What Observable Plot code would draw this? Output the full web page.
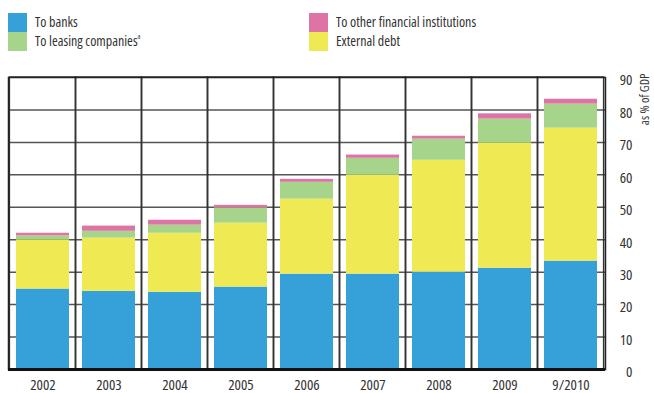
<!DOCTYPE html>
<html><head><meta charset="utf-8">
<script src="https://cdn.jsdelivr.net/npm/d3@7"></script>
<script src="https://cdn.jsdelivr.net/npm/@observablehq/plot@0.6"></script>
<style>
body{margin:0;background:#fff;font-family:"Open Sans",sans-serif;font-stretch:condensed;}
#legend{position:relative;height:52px;width:654px;}
.item{position:absolute;display:flex;align-items:center;font-size:14px;line-height:16px;color:#333;height:19.2px;overflow:visible}
.item span{line-height:16px}
.sw{width:19px;height:19.2px;margin-right:8px;flex:none}
sup{font-size:7px;vertical-align:top;line-height:7px}
#chart svg{display:block;font-stretch:condensed}
#chart svg text{font-stretch:condensed}
</style></head><body>
<div id="legend"></div><div id="chart"></div>
<script>
const periods = ["2002","2003","2004","2005","2006","2007","2008","2009","9/2010"];
const toBanks = [24.8, 24.1, 23.8, 25.4, 29.4, 29.4, 30.0, 31.2, 33.4];
const externalDebt = [15.1, 16.4, 18.2, 19.7, 23.1, 30.5, 34.5, 38.6, 41.0];
const toLeasing = [1.3, 2.1, 2.5, 4.7, 5.2, 5.2, 6.5, 7.4, 7.4];
const toOtherFin = [0.8, 1.6, 1.5, 0.8, 0.9, 1.0, 0.9, 1.6, 1.5];
const seriesNames = ["To banks", "External debt", "To leasing companies", "To other financial institutions"];
const seriesColors = ["#36a0d9", "#efea53", "#a6d48a", "#dd74a5"];
const yTicks = [0, 10, 20, 30, 40, 50, 60, 70, 80, 90];
const yLabel = "as % of GDP";

// legend
const legendLayout = [
  {s: 0, left: 8, top: 12.5},
  {s: 2, left: 8, top: 31.7, sup: "a"},
  {s: 3, left: 309, top: 12.5},
  {s: 1, left: 309, top: 31.7}
];
const leg = document.getElementById("legend");
for (const it of legendLayout) {
  const d = document.createElement("div");
  d.className = "item";
  d.style.left = it.left + "px";
  d.style.top = it.top + "px";
  d.innerHTML = `<span class="sw" style="background:${seriesColors[it.s]}"></span><span>${seriesNames[it.s]}${it.sup ? "<sup>" + it.sup + "</sup>" : ""}</span>`;
  leg.appendChild(d);
}

const values = [toBanks, externalDebt, toLeasing, toOtherFin];
const table = [];
values.forEach((arr, si) => arr.forEach((v, i) => table.push({period: periods[i], series: seriesNames[si], value: v})));

const W = 654, H = 341, ML = 8, MR = 49, MT = 25, MB = 24;
const padIn = 0.2;
const step = (W - ML - MR) / periods.length;
const half = step * padIn / 2;

const chart = Plot.plot({
  width: W, height: H,
  marginLeft: ML, marginRight: MR, marginTop: MT, marginBottom: MB,
  style: {fontFamily: '"Open Sans",sans-serif', fontSize: "15px", color: "#333"},
  x: {domain: periods, paddingInner: padIn, paddingOuter: padIn / 2, label: null},
  y: {domain: [0, 90], label: null},
  color: {domain: seriesNames, range: seriesColors},
  marks: [
    Plot.ruleY(yTicks.filter(v => v > 0 && v < 90), {stroke: "#555", strokeWidth: 1.5}),
    Plot.barY(periods, {x: d => d, y1: 0, y2: 90, fill: "none", stroke: "#333", strokeWidth: 1.5, insetLeft: -half, insetRight: -half}),
    Plot.barY(table, {x: "period", y: "value", fill: "series", order: seriesNames}),
    Plot.frame({stroke: "#222", strokeWidth: 1.5}),
    Plot.ruleY([0], {stroke: "#111", strokeWidth: 3}),
    Plot.axisX({tickSize: 0, tickPadding: 10, fontSize: 15}),
    Plot.axisY({anchor: "right", ticks: yTicks, tickSize: 0, tickPadding: 27, textAnchor: "end", dy: 3, fontSize: 15}),
    Plot.text([yLabel], {frameAnchor: "top-right", dx: 39, dy: -4, rotate: -90, textAnchor: "end", lineAnchor: "middle", fontSize: 12.5, fill: "#333", text: d => d})
  ]
});
document.getElementById("chart").appendChild(chart);
</script>
</body></html>
